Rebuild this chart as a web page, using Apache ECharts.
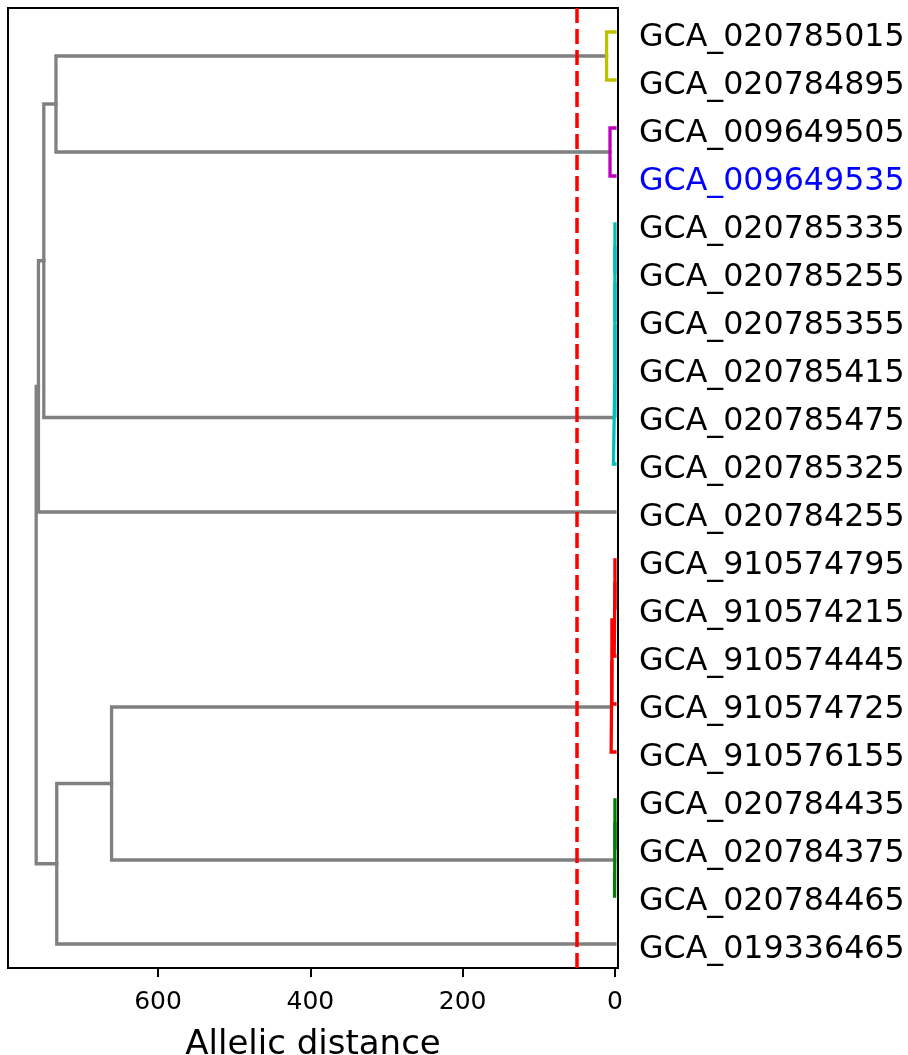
<!DOCTYPE html>
<html><head><meta charset="utf-8">
<script src="https://cdn.jsdelivr.net/npm/echarts@6/dist/echarts.min.js"></script>
<style>html,body{margin:0;padding:0;background:#fff}#c{width:908px;height:1055px}</style>
</head><body><div id="c"></div>
<script>
// Leaves in display order (top to bottom)
const leafLabels = [
  'GCA_020785015','GCA_020784895','GCA_009649505','GCA_009649535','GCA_020785335',
  'GCA_020785255','GCA_020785355','GCA_020785415','GCA_020785475','GCA_020785325',
  'GCA_020784255','GCA_910574795','GCA_910574215','GCA_910574445','GCA_910574725',
  'GCA_910576155','GCA_020784435','GCA_020784375','GCA_020784465','GCA_019336465'
];
const highlightLabels = ['GCA_009649535'];
const linkA = [4, 20, 21, 22, 16, 11, 25, 24, 26, 23, 28, 2, 0, 30, 33, 32, 35, 36, 37];
const linkB = [5, 6, 7, 8, 17, 12, 13, 18, 14, 9, 15, 3, 1, 27, 19, 31, 29, 10, 34];
const linkDist = [0, 0, 0, 0, 0, 0, 1, 0.5, 4, 2, 5, 6.5, 11, 661, 733, 734, 750, 757, 760];
const colorThreshold = 50;
const clusterPalette = ['#bfbf00', '#bf00bf', '#00bfbf', '#ff0000', '#008000'];
const aboveColor = '#808080';
const xTickValues = [0, 200, 400, 600];

const nLeaf = leafLabels.length;
const pos = [], height = [], parent = [];
leafLabels.forEach((_, i) => { pos.push(5 + 10 * i); height.push(0); });
linkA.forEach((a, k) => {
  const b = linkB[k];
  pos.push((pos[a] + pos[b]) / 2);
  height.push(linkDist[k]);
  parent[a] = nLeaf + k; parent[b] = nLeaf + k;
});
function clusterRoot(node) {
  let n = node;
  while (parent[n] !== undefined && height[parent[n]] < colorThreshold) n = parent[n];
  return n;
}
const roots = [];
linkA.forEach((a, k) => {
  if (linkDist[k] < colorThreshold) {
    const r = clusterRoot(nLeaf + k);
    if (roots.indexOf(r) < 0) roots.push(r);
  }
});
roots.sort((p, q) => pos[p] - pos[q]);
const rootColor = {};
roots.forEach((r, i) => { rootColor[r] = clusterPalette[i % clusterPalette.length]; });

const series = linkA.map((a, k) => {
  const b = linkB[k];
  const node = nLeaf + k;
  const color = linkDist[k] < colorThreshold ? rootColor[clusterRoot(node)] : aboveColor;
  return {
    type: 'line',
    data: [[height[a], pos[a]], [linkDist[k], pos[a]], [linkDist[k], pos[b]], [height[b], pos[b]]],
    showSymbol: false, symbol: 'none', silent: true, animation: false,
    lineStyle: { color: color, width: 3.3, cap: 'square', join: 'miter' },
    z: linkDist[k] < colorThreshold ? 3 : 2
  };
});
series.push({
  type: 'line', data: [], silent: true, animation: false,
  markLine: {
    silent: true, symbol: 'none', animation: false,
    label: { show: false },
    lineStyle: { color: '#ff0000', type: [15, 6], width: 3.5 },
    data: [{ xAxis: colorThreshold }]
  },
  z: 5
});

const chart = echarts.init(document.getElementById('c'), null, { renderer: 'canvas' });
chart.setOption({
  backgroundColor: '#fff',
  animation: false,
  textStyle: { fontFamily: 'DejaVu Sans' },
  grid: { left: 8, top: 8, width: 610, height: 960, show: true, borderColor: '#000', borderWidth: 2, backgroundColor: 'transparent', containLabel: false, outerBoundsMode: 'none' },
  xAxis: {
    type: 'value', inverse: true, min: -4, max: 797, position: 'bottom',
    axisLine: { show: false, onZero: false },
    splitLine: { show: false },
    axisTick: { show: true, customValues: xTickValues, length: 9, lineStyle: { color: '#000', width: 2 } },
    axisLabel: { customValues: xTickValues, fontSize: 25, color: '#000', margin: 22, fontFamily: 'DejaVu Sans' },
    name: 'Allelic distance', nameLocation: 'middle', nameGap: 60,
    nameTextStyle: { fontSize: 34, color: '#000', fontFamily: 'DejaVu Sans' }
  },
  yAxis: {
    type: 'value', inverse: true, min: 0, max: 200, position: 'right',
    axisLine: { show: false, onZero: false }, axisTick: { show: false }, splitLine: { show: false },
    axisLabel: {
      customValues: pos.slice(0, nLeaf), margin: 21, fontSize: 31.7, color: '#000', fontFamily: 'DejaVu Sans',
      padding: [12, 0, 0, 0],
      formatter: function (v) {
        const name = leafLabels[Math.round((v - 5) / 10)];
        return highlightLabels.indexOf(name) >= 0 ? '{hl|' + name + '}' : name;
      },
      rich: { hl: { color: '#0000ff', fontSize: 31.7, fontFamily: 'DejaVu Sans' } }
    }
  },
  series: series
});
</script></body></html>
